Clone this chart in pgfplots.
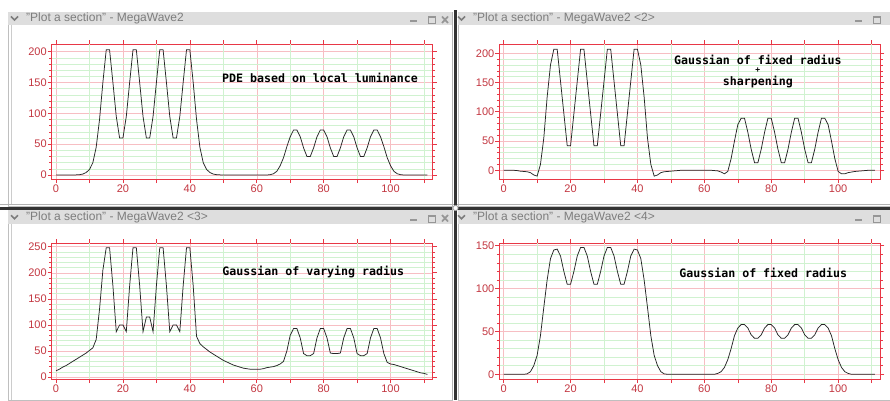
\documentclass[border=0pt]{standalone}
\usepackage{fontspec}
\setmainfont{Liberation Sans}
\newfontfamily\annfont{DejaVu Sans Mono}
\usepackage{pgfplots}
\pgfplotsset{compat=1.18}

\definecolor{axred}{RGB}{232,55,70}
\definecolor{lblred}{RGB}{195,55,65}
\definecolor{majpink}{RGB}{247,190,195}
\definecolor{mingreen}{RGB}{208,242,208}
\definecolor{bargray}{RGB}{222,222,222}
\definecolor{ttlgray}{RGB}{125,125,125}
\definecolor{btngray}{RGB}{150,150,150}

\pgfplotsset{
  mwpanel/.style={
    scale only axis, width=381pt, anchor=south west,
    xmin=-1.3, xmax=112.6,
    axis line style={axred, line width=0.8pt},
    tick style={axred, line width=0.6pt},
    tick align=outside,
    major tick length=4pt, minor tick length=2.5pt,
    xtick={0,20,...,100},
    extra x ticks={10,30,...,110},
    extra x tick labels={,,,,,},
    extra x tick style={grid=major, major grid style={draw=mingreen, line width=0.5pt}},
    xmajorgrids, ymajorgrids, yminorgrids,
    major grid style={draw=majpink, line width=0.5pt},
    minor grid style={draw=mingreen, line width=0.5pt},
    minor y tick num=4,
    tick label style={font=\fontsize{11}{12}\selectfont, text=lblred},
    yticklabel style={inner sep=0.8pt},
    xticklabel style={inner sep=1.5pt},
    /pgf/number format/assume math mode=true,
  },
}
\tikzset{
  curve/.style={black!85, line width=0.75pt, sharp plot, mark=none},
  ann/.style={font=\annfont\bfseries\fontsize{11.6}{12}\selectfont, inner sep=0pt, anchor=center},
}

\newcommand{\titlebar}[3]{% x left, y centre, text
  \draw[ttlgray, line width=1.6pt] (#1+3,#2+2) -- (#1+6.5,#2-1.5) -- (#1+10,#2+2);
  \node[anchor=west, inner sep=0pt, text=ttlgray, font=\fontsize{12}{14}\selectfont] at (#1+18,#2) {#3};
}

\begin{document}
\begin{tikzpicture}
\begin{scope}[x=1pt, y=1pt]
\useasboundingbox (0,0) rectangle (890,400);
\fill[white] (0,0) rectangle (890,400);
% windows
\draw[gray!50, fill=white] (8,194) rectangle (452,387.5);
\draw[gray!50, fill=white] (458,194) rectangle (890,387.5);
\draw[gray!50, fill=white] (8,0) rectangle (452,190);
\draw[gray!50, fill=white] (458,0) rectangle (890,190);
\fill[bargray] (8,375) rectangle (452,387.5);
\fill[bargray] (458,375) rectangle (890,387.5);
\fill[bargray] (8,176) rectangle (452,190);
\fill[bargray] (458,176) rectangle (890,190);
\draw[gray!40] (11.5,195) -- (11.5,375);
\draw[gray!40] (11.5,0) -- (11.5,176);
\titlebar{8}{381.5}{"Plot a section" - MegaWave2}
\titlebar{455}{381.5}{"Plot a section" - MegaWave2 <2>}
\titlebar{8}{182.7}{"Plot a section" - MegaWave2 <3>}
\titlebar{455}{182.7}{"Plot a section" - MegaWave2 <4>}
% buttons
\foreach \bx/\by/\cl in {408/380/1, 408/181.5/1, 853/380/0, 853/181.5/0}{
  \draw[btngray, line width=2pt] (\bx+2,\by-1.5) -- (\bx+9,\by-1.5);
  \draw[btngray, line width=1pt] (\bx+20,\by-3.5) rectangle (\bx+27,\by+3.5);
  \draw[btngray, line width=2pt] (\bx+20,\by+3) -- (\bx+27,\by+3);
  \ifnum\cl=1
    \draw[btngray, line width=1.7pt] (\bx+34,\by-3) -- (\bx+40,\by+3.5) (\bx+34,\by+3.5) -- (\bx+40,\by-3);
  \fi
}
% separators
\draw[gray!60, line width=0.8pt] (0,195.5) -- (890,195.5);
\fill[black!80] (0,190.5) rectangle (890,193.5);
\draw[gray!60, line width=0.8pt] (452.5,0) -- (452.5,388);
\fill[black!80] (454,0) rectangle (457,390);
\draw[gray!70, fill=white, line width=0.8pt] (455.5,192) circle (2.6);
\end{scope}

% panel 1
\begin{axis}[mwpanel, at={(51.7pt,221pt)}, height=134.7pt,
  ymin=-6.5, ymax=212, ytick={0,50,...,200}]
\addplot[curve] coordinates {
(0,0) (5,0) (6,0.2) (7,0.5) (8,1.5) (9,4) (10,9) (11,20) (12,45) (13,90) (14,150)
(15,203) (16,203) (17,150) (18,95) (19,60) (20,60) (21,95) (22,150) (23,203) (24,203)
(25,150) (26,95) (27,60) (28,60) (29,95) (30,150) (31,203) (32,203) (33,150) (34,95)
(35,60) (36,60) (37,95) (38,150) (39,203) (40,203) (41,150) (42,90) (43,45) (44,20)
(45,9) (46,4) (47,1.5) (48,0.5) (49,0.2) (50,0) (63,0) (64,0.5) (65,2) (66,6) (67,15)
(68,28) (69,46) (70,62) (71,73) (72,73) (73,62) (74,44) (75,30) (76,30) (77,44) (78,62)
(79,73) (80,73) (81,62) (82,44) (83,30) (84,30) (85,44) (86,62) (87,73) (88,73) (89,62)
(90,44) (91,30) (92,30) (93,44) (94,62) (95,73) (96,73) (97,62) (98,46) (99,28) (100,15)
(101,6) (102,2) (103,0.5) (104,0) (111,0)};
\node[ann] at (axis cs:78.9,156.8) {PDE based on local luminance};
\end{axis}

% panel 2
\begin{axis}[mwpanel, at={(499.3pt,221pt)}, height=134.7pt,
  ymin=-14.9, ymax=215.4, ytick={0,50,...,200}]
\addplot[curve] coordinates {
(0,0) (3,0) (4,-0.5) (5,-1.5) (6,-2) (7,-2.5) (8,-4) (9,-8) (10,-10) (11,10) (12,55)
(13,125) (14,180) (15,207) (16,207) (17,152) (18,97) (19,42) (20,42) (21,97) (22,152)
(23,207) (24,207) (25,152) (26,97) (27,42) (28,42) (29,97) (30,152) (31,207) (32,207)
(33,152) (34,97) (35,42) (36,42) (37,97) (38,152) (39,207) (40,207) (41,180) (42,125)
(43,55) (44,10) (45,-10) (46,-8) (47,-4) (48,-2.5) (49,-2) (50,-1.5) (51,-1) (52,-0.5)
(53,0) (62,0) (63,-0.5) (64,-1) (65,-3) (66,-6) (67,-2) (68,20) (69,50) (70,78) (71,89)
(72,89) (73,65) (74,36) (75,13) (76,13) (77,36) (78,65) (79,89) (80,89) (81,65) (82,36)
(83,13) (84,13) (85,36) (86,65) (87,89) (88,89) (89,65) (90,36) (91,13) (92,13) (93,36)
(94,65) (95,89) (96,89) (97,78) (98,50) (99,20) (100,-2) (101,-6) (102,-6) (103,-4)
(104,-3) (105,-2) (106,-1.5) (107,-1) (108,-0.5) (109,0) (111,0)};
\node[ann] at (axis cs:76,189) {Gaussian of fixed radius};
\node[ann, font=\annfont\bfseries\fontsize{8}{8}\selectfont] at (axis cs:76,171) {+};
\node[ann] at (axis cs:76,151.5) {sharpening};
\end{axis}

% panel 3
\begin{axis}[mwpanel, at={(51.7pt,21pt)}, height=135.7pt,
  ymin=-3.8, ymax=256.5, ytick={0,50,...,250}]
\addplot[curve] coordinates {
(0,12) (1,15) (2,19) (3,22) (4,26) (5,30) (6,34) (7,38) (8,42) (9,46) (10,51) (11,56)
(12,72) (13,130) (14,205) (15,248) (16,248) (17,175) (18,87) (19,100) (20,100) (21,87)
(22,175) (23,248) (24,248) (25,175) (26,87) (27,115) (28,115) (29,87) (30,175) (31,248)
(32,248) (33,175) (34,87) (35,100) (36,100) (37,87) (38,175) (39,248) (40,248) (41,175)
(42,78) (43,64) (44,58) (45,53) (46,48) (47,44) (48,40) (49,36) (50,32) (51,29) (52,26)
(53,23) (54,21) (55,19) (56,17) (57,16) (58,15) (61,15) (62,16) (63,18) (64,19) (65,20)
(66,22) (67,25) (68,30) (69,50) (70,80) (71,93) (72,93) (73,75) (74,45) (75,41) (76,41)
(77,45) (78,75) (79,93) (80,93) (81,75) (82,46) (83,45) (84,45) (85,46) (86,75) (87,93)
(88,93) (89,75) (90,45) (91,41) (92,41) (93,45) (94,75) (95,93) (96,93) (97,75) (98,45)
(99,28) (100,25) (101,24) (102,22) (103,20) (104,18) (105,16) (106,14) (107,12) (108,10)
(109,8) (110,7) (111,5)};
\node[ann] at (axis cs:76.9,200.9) {Gaussian of varying radius};
\end{axis}

% panel 4
\begin{axis}[mwpanel, at={(499.3pt,21pt)}, height=135.7pt,
  ymin=-5.5, ymax=152.8, ytick={0,50,...,150}]
\addplot[curve] coordinates {
(0,0) (6,0) (7,0.5) (8,3) (9,10) (10,22) (11,45) (12,78) (13,110) (14,135) (15,145)
(16,146) (17,138) (18,120) (19,105) (20,105) (21,120) (22,138) (23,148) (24,148)
(25,138) (26,120) (27,105) (28,105) (29,120) (30,138) (31,148) (32,148) (33,138)
(34,120) (35,105) (36,105) (37,120) (38,138) (39,146) (40,145) (41,135) (42,110)
(43,78) (44,45) (45,22) (46,10) (47,3) (48,0.5) (49,0) (63,0) (64,1) (65,3) (66,8)
(67,17) (68,30) (69,45) (70,54) (71,58) (72,58) (73,54) (74,46) (75,42) (76,42) (77,46)
(78,54) (79,58) (80,58) (81,54) (82,46) (83,42) (84,42) (85,46) (86,54) (87,58) (88,58)
(89,54) (90,46) (91,42) (92,42) (93,46) (94,54) (95,58) (96,58) (97,54) (98,45) (99,30)
(100,17) (101,8) (102,3) (103,1) (104,0) (111,0)};
\node[ann] at (axis cs:77.6,118.5) {Gaussian of fixed radius};
\end{axis}
\end{tikzpicture}
\end{document}
